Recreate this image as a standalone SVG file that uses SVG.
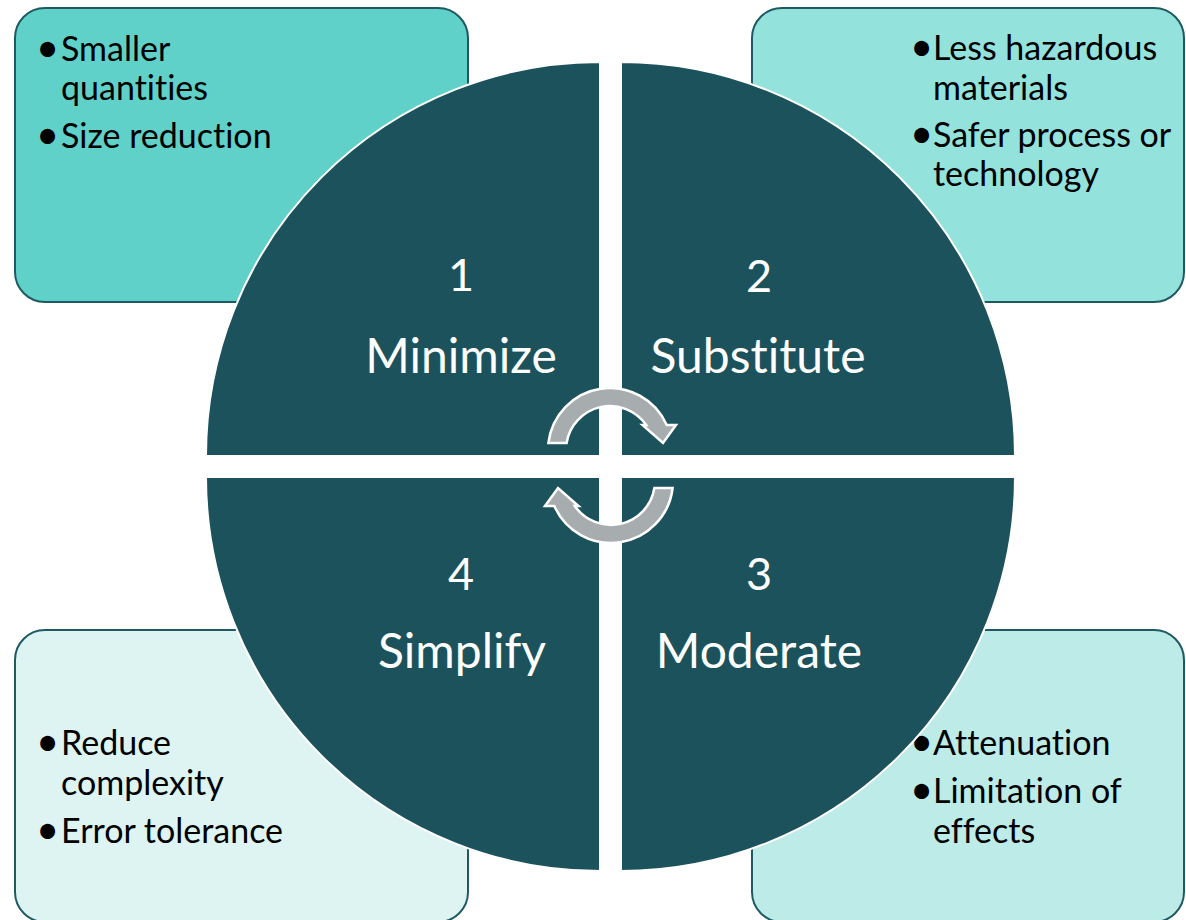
<svg xmlns="http://www.w3.org/2000/svg" width="1186" height="920" viewBox="0 0 1186 920">
<defs>
<style>
text{font-variant-ligatures:none;font-feature-settings:"liga" 0,"clig" 0}
.box{stroke:#1F5A63;stroke-width:2}
.sector{fill:#1C525C;stroke:#FFFFFF;stroke-width:2}
.bt{font-family:Lato,"Liberation Sans",sans-serif;font-size:34px;fill:#000000}
.bl{font-size:40px}
.num{font-family:Lato,"Liberation Sans",sans-serif;font-size:45px;fill:#FFFFFF;text-anchor:middle}
.lbl{font-family:Lato,"Liberation Sans",sans-serif;font-size:48px;fill:#FFFFFF;text-anchor:middle}
.arrow{fill:#A7ADAF;stroke:#FFFFFF;stroke-width:2.5;stroke-linejoin:miter}
</style>
<path id="arr" d="M 548.4 443 A 62 62 0 0 1 666.7 425 L 676 425 L 663 443 L 642.5 425 L 646.2 425 A 44 44 0 0 0 566.6 443 Z"/>
</defs>
<rect width="1186" height="920" fill="#FFFFFF"/>

<g id="box-minimize">
<rect class="box" x="15" y="8" width="453" height="294" rx="30" fill="#5FD1C8"/>
<text class="bt"><tspan class="bl" x="36" y="62">•</tspan><tspan x="61" y="61">Smaller</tspan><tspan x="61" y="100">quantities</tspan><tspan class="bl" x="36" y="149">•</tspan><tspan x="61" y="148">Size reduction</tspan></text>
</g>
<g id="box-substitute">
<rect class="box" x="752" y="8" width="432" height="294" rx="30" fill="#94E2DC"/>
<text class="bt"><tspan class="bl" x="910" y="61">•</tspan><tspan x="933" y="60">Less hazardous</tspan><tspan x="933" y="100">materials</tspan><tspan class="bl" x="910" y="148">•</tspan><tspan x="933" y="147">Safer process or</tspan><tspan x="933" y="186">technology</tspan></text>
</g>
<g id="box-simplify">
<rect class="box" x="15" y="630" width="453" height="292" rx="30" fill="#DEF4F2"/>
<text class="bt"><tspan class="bl" x="36" y="756">•</tspan><tspan x="61" y="755">Reduce</tspan><tspan x="61" y="795">complexity</tspan><tspan class="bl" x="36" y="844">•</tspan><tspan x="61" y="843">Error tolerance</tspan></text>
</g>
<g id="box-moderate">
<rect class="box" x="752" y="630" width="432" height="292" rx="30" fill="#BCEBE8"/>
<text class="bt"><tspan class="bl" x="910" y="756">•</tspan><tspan x="933" y="755">Attenuation</tspan><tspan class="bl" x="910" y="804">•</tspan><tspan x="933" y="803">Limitation of</tspan><tspan x="933" y="843">effects</tspan></text>
</g>

<g id="sector-1">
<path class="sector" d="M 600 456 L 206 456 A 394 394 0 0 1 600 62 Z"/>
<text class="num" x="461" y="291">1</text>
<text class="lbl" x="461" y="373">Minimize</text>
</g>
<g id="sector-2">
<path class="sector" d="M 621 456 L 621 62 A 394 394 0 0 1 1015 456 Z"/>
<text class="num" x="759" y="292">2</text>
<text class="lbl" x="758" y="373">Substitute</text>
</g>
<g id="sector-3">
<path class="sector" d="M 621 477 L 1015 477 A 394 394 0 0 1 621 871 Z"/>
<text class="num" x="759" y="590">3</text>
<text class="lbl" x="759" y="668">Moderate</text>
</g>
<g id="sector-4">
<path class="sector" d="M 600 477 L 600 871 A 394 394 0 0 1 206 477 Z"/>
<text class="num" x="461" y="590">4</text>
<text class="lbl" x="462" y="668">Simplify</text>
</g>

<g id="connectors">
<use href="#arr" class="arrow"/>
<use href="#arr" class="arrow" transform="rotate(180 610.5 465.5)"/>
</g>
</svg>
